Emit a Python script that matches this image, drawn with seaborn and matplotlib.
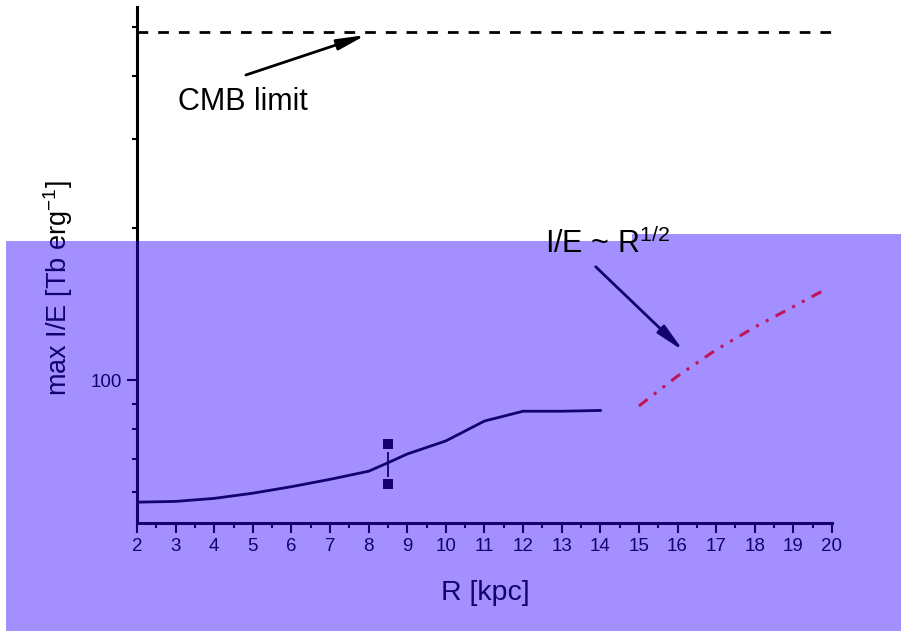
import matplotlib
matplotlib.use("Agg")
import matplotlib.pyplot as plt
import matplotlib.ticker as mticker
from matplotlib.patches import Polygon
import seaborn as sns

plt.rcParams["font.family"] = ["Liberation Sans", "DejaVu Sans"]
plt.rcParams["mathtext.fontset"] = "custom"
plt.rcParams["mathtext.rm"] = "Liberation Sans"
plt.rcParams["mathtext.it"] = "Liberation Sans"

# ====================================
# data
# ====================================
r_model = [2, 3, 4, 5, 6, 7, 8, 8.5, 9, 10, 11, 12, 13, 14]
ie_model = [57.4, 57.6, 58.4, 59.8, 61.6, 63.7, 66.1, 68.7, 71.5, 75.9, 83.1, 86.9, 86.9, 87.2]

r_law = [15, 16, 17, 18, 19, 19.8]
ie_law = [89, 102, 115, 127.5, 140, 151]

r_obs = [8.5, 8.5]
ie_obs = [74.8, 62.3]
obs_bar = [64.4, 72.1]

cmb_r = [2, 20]
cmb_level = [490, 490]

x_ticks = list(range(2, 21))

W, H = 901, 631
X_LIM = (2, 20)
Y_LIM = (52.2, 548.8)
RED = "#C0145A"


def px(x, y):
    # figure pixel (from top-left) -> figure fraction
    return x / W, 1 - y / H


fig = plt.figure(figsize=(W / 100, H / 100), dpi=100)
ax = fig.add_axes([137 / W, 1 - 523 / H, 695 / W, 516 / H])
ax.patch.set_alpha(0)

sns.lineplot(x=r_model, y=ie_model, ax=ax, color="black", lw=2.0)
sns.lineplot(x=cmb_r, y=cmb_level, ax=ax, color="black", lw=2,
             linestyle=(0, (3.85, 3.6)))
ax.vlines(r_obs[0], obs_bar[0], obs_bar[1], color="black", lw=1.3)
sns.scatterplot(x=r_obs, y=ie_obs, ax=ax, marker="s", s=55,
                color="black", edgecolor="none")

ax.set_yscale("log")
ax.set_xlim(*X_LIM)
ax.set_ylim(*Y_LIM)

ax.xaxis.set_major_locator(mticker.FixedLocator(x_ticks))
ax.xaxis.set_minor_locator(mticker.MultipleLocator(0.5))
ax.yaxis.set_major_locator(mticker.FixedLocator([100]))
ax.yaxis.set_major_formatter(mticker.FormatStrFormatter("%d"))
ax.yaxis.set_minor_locator(mticker.LogLocator(subs=range(2, 10)))
ax.yaxis.set_minor_formatter(mticker.NullFormatter())

ax.tick_params(which="major", direction="out", length=7.5, width=1.5,
               labelsize=13.5, colors="black")
ax.tick_params(axis="x", which="major", pad=3.5)
ax.tick_params(axis="y", which="major", pad=3)
ax.tick_params(which="minor", direction="out", length=3.6, width=1.5)

ax.spines["top"].set_visible(False)
ax.spines["right"].set_visible(False)
ax.spines["left"].set_linewidth(2.2)
ax.spines["bottom"].set_linewidth(2.2)
ax.set_xlabel("")
ax.set_ylabel("")

# arrows
ax.annotate("", xy=(7.93, 483), xytext=(4.82, 402.5),
            arrowprops=dict(arrowstyle="-|>,head_length=1.7,head_width=0.32",
                            color="black", lw=2, shrinkA=0, shrinkB=0,
                            mutation_scale=10))
ax.annotate("", xy=(16.15, 114.5), xytext=(13.88, 167.9),
            arrowprops=dict(arrowstyle="-|>,head_length=1.7,head_width=0.32",
                            color="black", lw=2, shrinkA=0, shrinkB=0,
                            mutation_scale=10))

# labels
fig.text(*px(178, 110.5), "CMB limit", fontsize=22, va="baseline", ha="left")
fig.text(*px(485, 600), "R [kpc]", fontsize=20.5, va="baseline", ha="center",
         zorder=1)
fig.text(*px(67, 288), r"max I/E [Tb erg$^{-1}$]", fontsize=19.5, rotation=90,
         rotation_mode="anchor", ha="center", va="baseline", zorder=1)

# purple overlay over lower part of the picture
shade = Polygon([px(6, H), px(6, 241), px(632, 241), px(632, 234),
                 px(W, 234), px(W, H)],
                closed=True, transform=fig.transFigure,
                facecolor=(0.18, 0.002, 1.0), alpha=0.44,
                edgecolor="none", zorder=2)
fig.add_artist(shade)

# things drawn on top of the overlay
ax_top = fig.add_axes(ax.get_position(), zorder=3)
ax_top.patch.set_alpha(0)
sns.lineplot(x=r_law, y=ie_law, ax=ax_top, color=RED, lw=2.2,
             linestyle=(0, (3.6, 2.6, 1.0, 2.6, 1.0, 2.6)))
ax_top.set_yscale("log")
ax_top.set_xlim(*X_LIM)
ax_top.set_ylim(*Y_LIM)
ax_top.axis("off")

fig.text(*px(545, 253), r"I/E ~ R$^{1/2}$", fontsize=22, va="baseline",
         ha="left", zorder=4)

plt.savefig("out.png", dpi=100)
